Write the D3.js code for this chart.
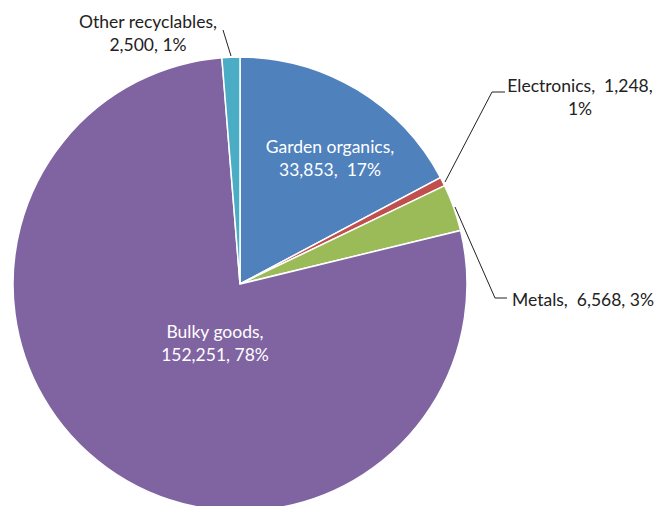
<!DOCTYPE html>
<html><head><meta charset="utf-8">
<script src="https://cdn.jsdelivr.net/npm/d3@7"></script>
<style>body{margin:0;background:#fff}svg{display:block}text{font-family:Lato,"Open Sans",sans-serif;font-size:17.5px;white-space:pre}</style>
</head><body><svg id="c" width="659" height="506"></svg>
<script>
const categories = ["Garden organics","Electronics","Metals","Bulky goods","Other recyclables"];
const values = [33853, 1248, 6568, 152251, 2500];
const labelLines = [["Garden organics,","33,853,  17%"],["Electronics,  1,248,","1%"],["Metals,  6,568, 3%"],["Bulky goods,","152,251, 78%"],["Other recyclables,","2,500, 1%"]];
const colors = ["#4F81BD","#C0504D","#9BBB59","#8064A2","#4BACC6"];

const svg = d3.select("#c");
const cx = 240, cy = 284, R = 227;
const g = svg.append("g").attr("transform",`translate(${cx},${cy})`);
const pie = d3.pie().sort(null).value(d=>d)(values);
const arc = d3.arc().innerRadius(0).outerRadius(R);
g.selectAll("path").data(pie).join("path").attr("d",arc)
  .attr("fill",(d,i)=>colors[i]).attr("stroke","#fff").attr("stroke-width",1.5);

const labelPos = [
  {x:330,y:147,anchor:"middle",fill:"#fff"},
  {x:580,y:86,anchor:"middle",fill:"#222"},
  {x:583,y:300,anchor:"middle",fill:"#222"},
  {x:215,y:332,anchor:"middle",fill:"#fff"},
  {x:148,y:22,anchor:"middle",fill:"#222"}
];
labelLines.forEach((lines,i)=>{
  const p = labelPos[i];
  const t = svg.append("text").attr("text-anchor",p.anchor).attr("fill",p.fill);
  lines.forEach((l,k)=>t.append("tspan").attr("x",p.x).attr("y",p.y+k*23).attr("dy","0.35em").text(l));
});
const leaders = [
  [[445,182],[492,92],[505,92]],
  [[455,207],[495,298],[507,298]],
  [[231,56],[223,30]]
];
leaders.forEach(pts=>svg.append("path").attr("d",d3.line()(pts)).attr("fill","none").attr("stroke","#222").attr("stroke-width",1));
</script></body></html>
